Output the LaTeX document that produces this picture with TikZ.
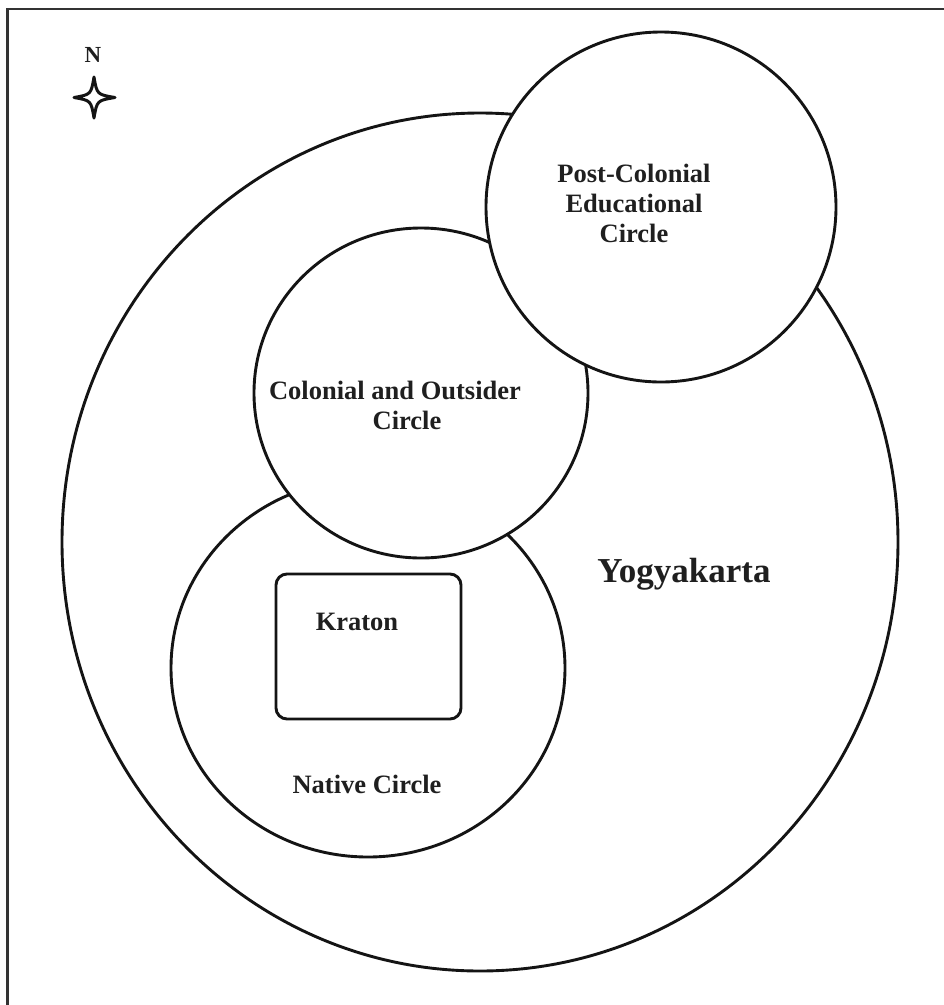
\documentclass[tikz,border=0pt]{standalone}
\usepackage{fontspec}
\setmainfont{Liberation Serif}
\begin{document}
\begin{tikzpicture}[x=1pt,y=-1pt,
  region/.style={draw=black!92,line width=2.9pt,fill=white},
  lbl/.style={inner sep=0pt,text=black!88,font=\bfseries\fontsize{26.5}{30}\selectfont,align=center}]
\useasboundingbox (0,0) rectangle (944,1005);
% frame
\draw[line width=2.2pt,black!80] (7.5,1005) -- (7.5,9) -- (944,9);
% regions (bottom to top)
\draw[region] (480,542) ellipse [x radius=418,y radius=429];
\draw[region] (368,668) ellipse [x radius=197,y radius=189];
\draw[region,rounded corners=11pt] (276,574) rectangle (461,719);
\draw[region] (421,393) ellipse [x radius=167,y radius=165];
\draw[region] (661,207) ellipse [x radius=175,y radius=175];
% labels
\node[lbl] (post) at (634,203) {Post-Colonial\\Educational\\Circle};
\node[lbl] (colo) at (395,405.5) {Colonial and Outsider\\\hspace*{24pt}Circle};
\node[lbl] (krat) at (357,621.5) {Kraton};
\node[lbl] (nati) at (367,784) {Native Circle};
\node[lbl,font=\bfseries\fontsize{35}{40}\selectfont] (yogy) at (684,574) {Yogyakarta};
\node[lbl,font=\bfseries\fontsize{23}{26}\selectfont] (north) at (93,55) {N};
% compass star
\coordinate (sc) at (94,97.5);
\draw[line width=3pt,black!92,line join=round]
  (94,77) .. controls (97,94.5) .. (115,97.5)
  .. controls (97,100.5) .. (94,118)
  .. controls (91,100.5) .. (74,97.5)
  .. controls (91,94.5) .. (94,77) -- cycle;
\end{tikzpicture}
\end{document}
